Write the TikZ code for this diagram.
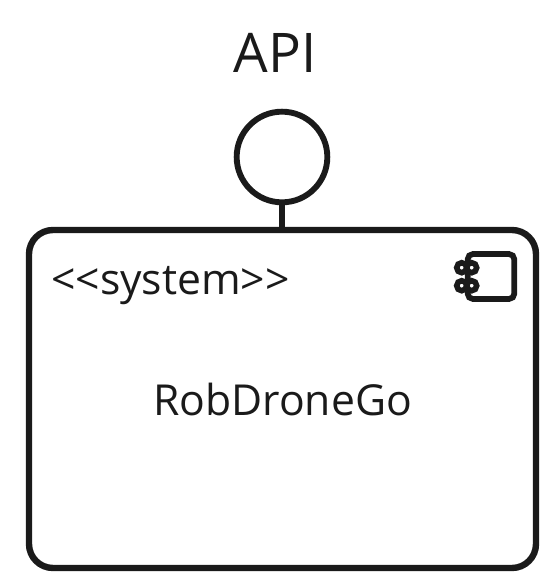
\documentclass[tikz,border=0pt]{standalone}
\usepackage{fontspec}
\setmainfont{Open Sans}
\definecolor{umlInk}{RGB}{26, 26, 26}
\usetikzlibrary{positioning}

\begin{document}
\begin{tikzpicture}[
    x=0.75pt, y=-0.75pt,
    systembox/.style={rectangle, draw=umlInk, line width=4.8pt, minimum width=380.25pt,
                      minimum height=253.5pt, rounded corners=18pt, inner sep=0pt},
    lollipop/.style={circle, draw=umlInk, line width=4.4pt, minimum size=68pt, inner sep=0pt},
    iconbox/.style={rectangle, draw=umlInk, line width=4.3pt, minimum width=35pt,
                    minimum height=33.75pt, rounded corners=4pt, inner sep=0pt},
    iconhole/.style={circle, draw=umlInk, fill=white, line width=4.2pt, minimum size=7.5pt, inner sep=0pt},
    label/.style={text=umlInk, inner sep=0pt, font=\fontsize{32}{38}\selectfont},
  ]
    \useasboundingbox (0,0) rectangle (560,582);

    \node[systembox] (system) at (282.5,399) {};
    \node[lollipop] (api) at (282,157) {};
    \draw[umlInk, line width=4pt] (api.south) -- (system.north -| api.south);

    \node[label, font=\fontsize{41}{48}\selectfont] (apilabel) at (275,53) {API};
    \node[label] (stereotype) at (170.5,286) {<{}<system>{}>};
    \node[label] (name) at (282.5,399.5) {RobDroneGo};

    \node[iconbox] (icon) at (491,276.5) {};
    \foreach \row/\ypos in {a/267.7, b/285.7} {
      \node[iconhole] (hole\row l) at (461.7,\ypos) {};
      \node[iconhole] (hole\row r) at (471.7,\ypos) {};
    }
  \end{tikzpicture}
\end{document}
